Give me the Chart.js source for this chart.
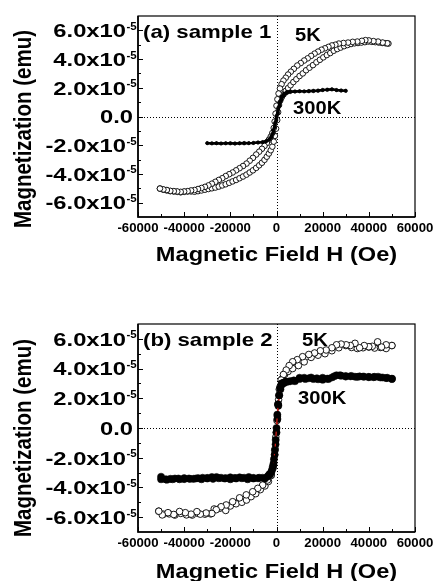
<!DOCTYPE html>
<html>
<head>
<meta charset="utf-8">
<script src="https://cdn.jsdelivr.net/npm/chart.js@4/dist/chart.umd.min.js"></script>
<style>
html, body { margin: 0; padding: 0; background: #fff; }
canvas { display: block; }
</style>
</head>
<body>
<canvas id="chartA" width="436" height="290"></canvas>
<canvas id="chartB" width="436" height="291"></canvas>
<script>
// axis ticks (field in Oe, magnetization in units of 1e-5 emu)
var xTickVals = [-60000, -40000, -20000, 0, 20000, 40000, 60000];
var xTickLabels = ["-60000", "-40000", "-20000", "0", "20000", "40000", "60000"];
var xMinorVals = [-50000, -30000, -10000, 10000, 30000, 50000];
var yTickVals = [6, 4, 2, 0, -2, -4, -6];
var yTickLabels = ["6.0", "4.0", "2.0", "0.0", "-2.0", "-4.0", "-6.0"];
var yTickExp = "-5";
var yMinorVals = [5, 3, 1, -1, -3, -5];

// (a) sample 1, 5K loop - field going down
var a5kDownH = [48000, 46000, 44000, 42000, 40000, 38500, 37000, 35000, 33000, 31000, 29000, 27000, 25500, 24000, 22500, 21000, 19500, 18000, 16500, 15000, 13500, 12000, 10500, 9000, 7500, 6200, 5000, 4000, 3000, 2200, 1500, 900, 400, 0, -400, -800, -1200, -1800, -2500, -3300, -4200, -5200, -6300, -7500, -8800, -10200, -11600, -13000, -14500, -16000, -17500, -19000, -20500, -22000, -23500, -25000, -26500, -28000, -29500, -31000, -32500, -34000, -35500, -37000, -38500, -40000, -41500, -43000, -44500, -46000, -47500, -49000, -50500];
var a5kDownM = [5.10, 5.15, 5.22, 5.25, 5.30, 5.32, 5.27, 5.22, 5.20, 5.15, 5.12, 5.08, 5.00, 4.95, 4.85, 4.75, 4.65, 4.52, 4.38, 4.22, 4.05, 3.90, 3.72, 3.55, 3.32, 3.12, 2.92, 2.70, 2.50, 2.25, 1.95, 1.60, 1.20, 0.75, 0.20, -0.35, -0.80, -1.15, -1.40, -1.62, -1.85, -2.05, -2.25, -2.45, -2.65, -2.88, -3.08, -3.28, -3.45, -3.60, -3.75, -3.90, -4.02, -4.15, -4.30, -4.42, -4.55, -4.68, -4.80, -4.90, -4.98, -5.05, -5.12, -5.15, -5.20, -5.22, -5.25, -5.22, -5.20, -5.18, -5.12, -5.08, -5.02];
// (a) 5K loop - field going up
var a5kUpH = [-50500, -49000, -47500, -46000, -44500, -43000, -41500, -40000, -38500, -37000, -35500, -34000, -32500, -31000, -29500, -28000, -26500, -25000, -23500, -22000, -20500, -19000, -17500, -16000, -14500, -13000, -11600, -10200, -8800, -7500, -6300, -5200, -4200, -3300, -2500, -1800, -1200, -700, -200, 300, 700, 1100, 1600, 2300, 3100, 4000, 5000, 6100, 7300, 8600, 10000, 11400, 12800, 14300, 15800, 17300, 18800, 20300, 21800, 23300, 24800, 26300, 27800, 29300, 30800, 32300, 33800, 35300, 36800, 38300, 39800, 41300, 42800, 44300, 45800, 47300, 48500];
var a5kUpM = [-5.02, -5.10, -5.15, -5.20, -5.22, -5.25, -5.28, -5.25, -5.22, -5.22, -5.24, -5.20, -5.15, -5.10, -5.05, -5.00, -4.95, -4.88, -4.80, -4.72, -4.62, -4.52, -4.42, -4.30, -4.18, -4.05, -3.90, -3.75, -3.58, -3.40, -3.22, -3.02, -2.80, -2.58, -2.35, -2.10, -1.75, -1.35, -0.85, -0.25, 0.30, 0.80, 1.10, 1.35, 1.55, 1.78, 1.98, 2.18, 2.40, 2.60, 2.82, 3.00, 3.22, 3.40, 3.58, 3.78, 3.95, 4.12, 4.28, 4.42, 4.58, 4.70, 4.80, 4.90, 4.98, 5.05, 5.10, 5.12, 5.15, 5.18, 5.22, 5.20, 5.18, 5.15, 5.12, 5.10, 5.08];

// (a) 300K
var a300UpH = [-30000, -28000, -26000, -24000, -22000, -20000, -18000, -16000, -14000, -12000, -10000, -8000, -6000, -4500, -3200, -2200, -1400, -700, 0, 700, 1400, 2200, 3200, 4500, 6000, 8000, 10000, 12000, 14000, 16000, 18000, 20000, 22000, 24000, 26000, 28000, 30000];
var a300UpM = [-1.85, -1.87, -1.86, -1.88, -1.86, -1.85, -1.87, -1.86, -1.84, -1.85, -1.83, -1.80, -1.78, -1.72, -1.60, -1.35, -0.95, -0.45, 0.05, 0.60, 1.05, 1.40, 1.60, 1.72, 1.76, 1.75, 1.77, 1.76, 1.78, 1.80, 1.82, 1.86, 1.88, 1.90, 1.85, 1.82, 1.80];
var a300DownH = [30000, 28000, 26000, 24000, 22000, 20000, 18000, 16000, 14000, 12000, 10000, 8000, 6000, 4500, 3200, 2200, 1400, 700, 0, -700, -1400, -2200, -3200, -4500, -6000, -8000, -10000, -12000, -14000, -16000, -18000, -20000, -22000, -24000, -26000, -28000, -30000];
var a300DownM = [1.78, 1.80, 1.83, 1.88, 1.85, 1.83, 1.78, 1.76, 1.75, 1.74, 1.75, 1.73, 1.70, 1.62, 1.45, 1.15, 0.75, 0.25, -0.25, -0.75, -1.15, -1.45, -1.62, -1.72, -1.78, -1.82, -1.85, -1.86, -1.88, -1.87, -1.89, -1.88, -1.87, -1.88, -1.86, -1.87, -1.86];

// (b) sample 2, 5K loop
var b5kDownH = [50000, 47500, 45500, 43800, 41500, 40000, 38000, 36000, 34000, 32000, 30200, 28000, 26000, 24000, 21500, 19000, 16500, 14000, 11300, 9000, 7000, 5500, 4200, 3000, 2000, 1200, 600, 200, -300, -800, -1500, -2300, -3900, -6000, -8100, -10300, -13100, -16000, -19000, -21800, -24000, -26100, -28000, -30500, -33000, -34500, -37000, -39500, -42000, -44500, -47000, -49500, -51000];
var b5kDownM = [5.55, 5.60, 5.45, 5.80, 5.50, 5.47, 5.55, 5.40, 5.70, 5.55, 5.60, 5.65, 5.60, 5.40, 5.25, 5.20, 5.05, 4.95, 4.80, 4.60, 4.46, 4.20, 3.90, 3.60, 3.23, 2.60, 1.60, 0.50, -0.60, -1.80, -2.70, -3.16, -3.50, -3.84, -4.06, -4.29, -4.50, -4.70, -4.96, -5.18, -5.30, -5.50, -5.75, -5.72, -5.80, -5.63, -5.80, -5.70, -5.62, -5.82, -5.70, -5.85, -5.60];
var b5kUpH = [-51000, -49000, -46500, -44000, -41500, -39000, -36500, -34000, -31000, -28500, -27000, -24500, -22000, -20000, -17500, -15000, -13000, -11000, -9000, -7000, -5000, -3500, -2300, -1300, -600, -100, 400, 900, 1600, 2400, 3500, 5000, 7000, 9500, 12000, 15000, 18000, 21000, 24000, 27000, 30000, 32500, 35000, 37500, 40000, 42500, 45000, 47500, 50000];
var b5kUpM = [-5.60, -5.80, -5.78, -5.86, -5.75, -5.85, -5.86, -5.75, -5.80, -5.78, -5.45, -5.40, -5.55, -5.25, -5.10, -5.00, -4.85, -4.62, -4.42, -4.15, -3.90, -3.60, -3.20, -2.50, -1.40, -0.30, 0.80, 1.90, 2.80, 3.30, 3.60, 3.80, 4.00, 4.20, 4.45, 4.75, 4.90, 5.00, 5.20, 5.40, 5.55, 5.42, 5.35, 5.40, 5.45, 5.38, 5.42, 5.35, 5.55];

// (b) 300K
var b300UpH = [-50000, -48000, -46000, -44000, -42000, -40000, -38000, -36000, -34000, -32000, -30000, -28000, -26000, -24000, -22000, -20000, -18000, -16000, -14000, -12000, -10000, -8000, -6000, -4000, -3000, -2200, -1600, -1100, -700, -350, 0, 350, 700, 1100, 1600, 2200, 3000, 4000, 6000, 8000, 10000, 12000, 14000, 16000, 18000, 20000, 22000, 24000, 26000, 28000, 30000, 32000, 34000, 36000, 38000, 40000, 42000, 44000, 46000, 48000, 50000];
var b300UpM = [-3.28, -3.45, -3.42, -3.40, -3.45, -3.38, -3.40, -3.42, -3.38, -3.35, -3.36, -3.30, -3.30, -3.35, -3.38, -3.32, -3.36, -3.32, -3.35, -3.30, -3.36, -3.38, -3.35, -3.28, -3.10, -2.95, -2.60, -2.10, -1.50, -0.80, 0.00, 0.90, 1.60, 2.20, 2.70, 3.00, 3.05, 3.12, 3.15, 3.15, 3.30, 3.38, 3.35, 3.30, 3.28, 3.38, 3.32, 3.40, 3.55, 3.52, 3.50, 3.48, 3.45, 3.47, 3.45, 3.44, 3.42, 3.45, 3.40, 3.38, 3.32];
var b300DownH = [50000, 47500, 45000, 42500, 40000, 37500, 35000, 32500, 30000, 27500, 25000, 22500, 20000, 17500, 15000, 12500, 10000, 7500, 5000, 3500, 2500, 1700, 1200, 800, 400, 0, -400, -800, -1300, -1900, -2700, -3500, -5000, -7500, -10000, -12500, -15000, -17500, -20000, -22500, -25000, -27500, -30000, -32500, -35000, -37500, -40000, -42500, -45000, -47500, -50000];
var b300DownM = [3.30, 3.36, 3.40, 3.44, 3.42, 3.46, 3.44, 3.50, 3.46, 3.55, 3.48, 3.30, 3.25, 3.35, 3.40, 3.30, 3.38, 3.20, 3.12, 3.05, 2.95, 2.60, 2.20, 1.50, 0.60, -0.30, -1.10, -1.80, -2.40, -2.80, -3.10, -3.20, -3.40, -3.35, -3.40, -3.45, -3.38, -3.40, -3.45, -3.40, -3.38, -3.42, -3.40, -3.45, -3.40, -3.42, -3.44, -3.40, -3.45, -3.48, -3.45];

var FONT = '"Liberation Sans", Arial, sans-serif';

function pts(h, m) {
    var out = [];
    for (var i = 0; i < h.length; i++) out.push({x: h[i], y: m[i]});
    return out;
}

function drawText(ctx, s, x, y, size, align, sx, rot) {
    ctx.save();
    ctx.translate(x, y);
    ctx.scale(sx, 1);
    if (rot) ctx.rotate(rot);
    ctx.font = "bold " + size + "px " + FONT;
    ctx.textAlign = align;
    ctx.textBaseline = "alphabetic";
    ctx.fillStyle = "#000";
    ctx.fillText(s, 0, 0);
    ctx.restore();
}

// frame, inward ticks, dotted zero lines and all the text
var panelDecor = {
    id: "panelDecor",
    beforeDatasetsDraw: function(chart) {
        var ctx = chart.ctx, a = chart.chartArea;
        var xs = chart.scales.x, ys = chart.scales.y;
        ctx.save();
        ctx.strokeStyle = "#000";
        ctx.lineWidth = 1;
        ctx.setLineDash([1, 2]);
        var x0 = Math.round(xs.getPixelForValue(0)) + 0.5;
        var y0 = Math.round(ys.getPixelForValue(0)) + 0.5;
        ctx.beginPath();
        ctx.moveTo(x0, a.top); ctx.lineTo(x0, a.bottom);
        ctx.moveTo(a.left, y0); ctx.lineTo(a.right, y0);
        ctx.stroke();
        ctx.restore();
    },
    afterDraw: function(chart) {
        var ctx = chart.ctx, a = chart.chartArea;
        var xs = chart.scales.x, ys = chart.scales.y;
        var t = chart.options.plugins.panelDecor;
        ctx.save();
        ctx.strokeStyle = "#000";
        ctx.lineWidth = 1.2;
        ctx.strokeRect(a.left, a.top, a.right - a.left, a.bottom - a.top);
        ctx.lineWidth = 1.6;
        ctx.beginPath();
        ctx.moveTo(a.left, a.top); ctx.lineTo(a.left, a.bottom); ctx.lineTo(a.right, a.bottom);
        ctx.stroke();

        ctx.lineWidth = 1;
        ctx.beginPath();
        xTickVals.forEach(function(v) {
            var px = Math.round(xs.getPixelForValue(v)) + 0.5;
            ctx.moveTo(px, a.bottom); ctx.lineTo(px, a.bottom - 5);
        });
        xMinorVals.forEach(function(v) {
            var px = Math.round(xs.getPixelForValue(v)) + 0.5;
            ctx.moveTo(px, a.bottom); ctx.lineTo(px, a.bottom - 3);
        });
        yTickVals.forEach(function(v) {
            var py = Math.round(ys.getPixelForValue(v)) + 0.5;
            ctx.moveTo(a.left, py); ctx.lineTo(a.left + 5, py);
        });
        yMinorVals.forEach(function(v) {
            var py = Math.round(ys.getPixelForValue(v)) + 0.5;
            ctx.moveTo(a.left, py); ctx.lineTo(a.left + 3, py);
        });
        ctx.stroke();
        ctx.restore();

        // tick labels
        xTickVals.forEach(function(v, i) {
            drawText(ctx, xTickLabels[i], xs.getPixelForValue(v), a.bottom + 15, 12, "center", 1.1);
        });
        yTickVals.forEach(function(v, i) {
            var py = ys.getPixelForValue(v);
            if (v === 0) {
                drawText(ctx, yTickLabels[i], 133, py + 6.8, 19, "right", 1.25);
            } else {
                drawText(ctx, yTickLabels[i] + "x10", 126, py + 6.8, 19, "right", 1.25);
                drawText(ctx, yTickExp, 126.5, py - 0.5, 11.5, "left", 1.0);
            }
        });

        // axis titles and annotations
        drawText(ctx, "Magnetic Field H (Oe)", (a.left + a.right) / 2, t.xTitleY, 20, "center", 1.18);
        drawText(ctx, "Magnetization (emu)", 31, t.yTitleY, 20.5, "center", 1.18, -Math.PI / 2);
        drawText(ctx, t.label, 143, t.labelY, 18.5, "left", 1.2);
        drawText(ctx, "5K", t.k5[0], t.k5[1], 18, "left", 1.12);
        drawText(ctx, "300K", t.k300[0], t.k300[1], 18, "left", 1.12);
    }
};

function makePanel(id, padding, decor, datasets) {
    return new Chart(document.getElementById(id), {
        type: "scatter",
        data: { datasets: datasets },
        options: {
            responsive: false,
            animation: false,
            events: [],
            layout: { padding: padding },
            scales: {
                x: { type: "linear", min: -60000, max: 60000, display: false },
                y: { type: "linear", min: -7, max: 7, display: false }
            },
            plugins: {
                legend: { display: false },
                tooltip: { enabled: false },
                panelDecor: decor
            }
        },
        plugins: [panelDecor]
    });
}

function openSet(h, m, r, lw) {
    return { data: pts(h, m), showLine: true, borderColor: "#000", borderWidth: lw,
             pointRadius: r, pointBackgroundColor: "#fff", pointBorderColor: "#000", pointBorderWidth: 0.9, order: 2 };
}
function fullSet(h, m, r, lineColor, lw) {
    return { data: pts(h, m), showLine: true, borderColor: lineColor, borderWidth: lw,
             pointRadius: r, pointBackgroundColor: "#000", pointBorderColor: "#000", pointBorderWidth: 0.5, order: 1 };
}

makePanel("chartA", { left: 138, right: 21, top: 16, bottom: 73 },
    { label: "(a) sample 1", labelY: 38, k5: [295, 41], k300: [293, 114], xTitleY: 261, yTitleY: 129 },
    [
        fullSet(a300UpH, a300UpM, 1.6, "#000", 2.2),
        fullSet(a300DownH, a300DownM, 1.6, "#000", 2.2),
        openSet(a5kDownH, a5kDownM, 2.8, 0.6),
        openSet(a5kUpH, a5kUpM, 2.8, 0.6)
    ]);

makePanel("chartB", { left: 138, right: 21, top: 34, bottom: 49 },
    { label: "(b) sample 2", labelY: 56, k5: [302, 56], k300: [298, 114], xTitleY: 288, yTitleY: 148 },
    [
        fullSet(b300UpH, b300UpM, 3.6, "#e0201a", 1.2),
        fullSet(b300DownH, b300DownM, 3.6, "#e0201a", 1.2),
        openSet(b5kDownH, b5kDownM, 3.3, 0.8),
        openSet(b5kUpH, b5kUpM, 3.3, 0.8)
    ]);
</script>
</body>
</html>
